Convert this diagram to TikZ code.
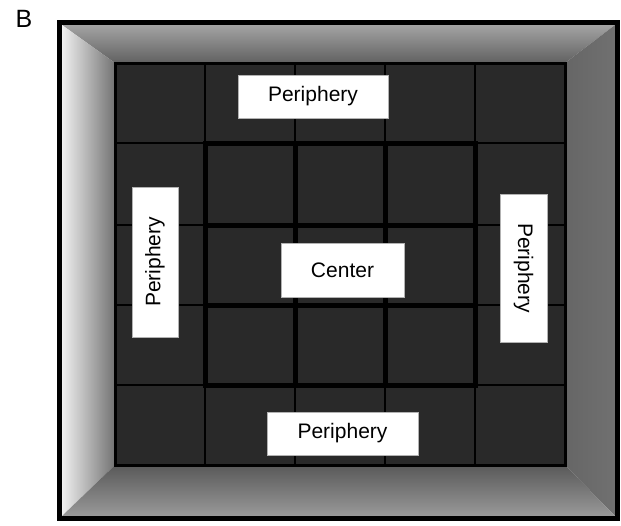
\documentclass[tikz,border=0pt]{standalone}
\usepackage{fontspec}
\setmainfont{Liberation Sans}

\begin{document}
\begin{tikzpicture}[x=1pt, y=-1pt]

% Styles
\tikzset{
    zonebox/.style={rectangle, fill=white, draw=black!30, line width=0.4pt, inner sep=0pt, font=\fontsize{21}{25}\selectfont, text centered},
    thingrid/.style={draw=black, line width=1.8pt},
    thickgrid/.style={draw=black, line width=5pt},
    frameline/.style={draw=black, line width=5pt}
}

\useasboundingbox (0,0) rectangle (621,525);

% Walls of the arena
\shade[top color=black!36, bottom color=black!62] (62,25) -- (615,25) -- (565,63) -- (115,63) -- cycle;
\shade[left color=black!6, right color=black!55] (62,25) -- (115,63) -- (115,465) -- (62,516) -- cycle;
\shade[left color=black!60, right color=black!56] (615,25) -- (615,516) -- (565,465) -- (565,63) -- cycle;
\shade[top color=black!65, bottom color=black!40] (115,465) -- (565,465) -- (615,516) -- (62,516) -- cycle;

% Floor
\fill[black!84] (115,63) rectangle (565,465);

% Grid
\foreach \x in {205,295,385,475}
    \draw[thingrid] (\x,63) -- (\x,465);
\foreach \y in {143,225,305,385}
    \draw[thingrid] (115,\y) -- (565,\y);
\draw[thingrid, line width=3pt] (115,63) rectangle (565,465);
\foreach \x in {295,385}
    \draw[thickgrid] (\x,143) -- (\x,385);
\foreach \y in {225,305}
    \draw[thickgrid] (205,\y) -- (475,\y);
\draw[thickgrid] (205,143) rectangle (475,385);

% Frame
\draw[frameline] (59.5,22.5) rectangle (617.5,518.5);

% Labels
\node (panel) [font=\fontsize{25}{30}\selectfont, inner sep=0pt] at (24,19) {B};
\node (periTop) [zonebox, minimum width=150pt, minimum height=43pt] at (313,96.5) {Periphery};
\node (centerZone) [zonebox, minimum width=123pt, minimum height=54pt] at (342.5,270) {Center};
\node (periLeft) [zonebox, minimum width=150pt, minimum height=46pt, rotate=90] at (155,262) {Periphery};
\node (periRight) [zonebox, minimum width=148pt, minimum height=47pt, rotate=-90] at (523.5,268) {Periphery};
\node (periBottom) [zonebox, minimum width=151pt, minimum height=43pt] at (342.5,433.5) {Periphery};

\end{tikzpicture}
\end{document}
